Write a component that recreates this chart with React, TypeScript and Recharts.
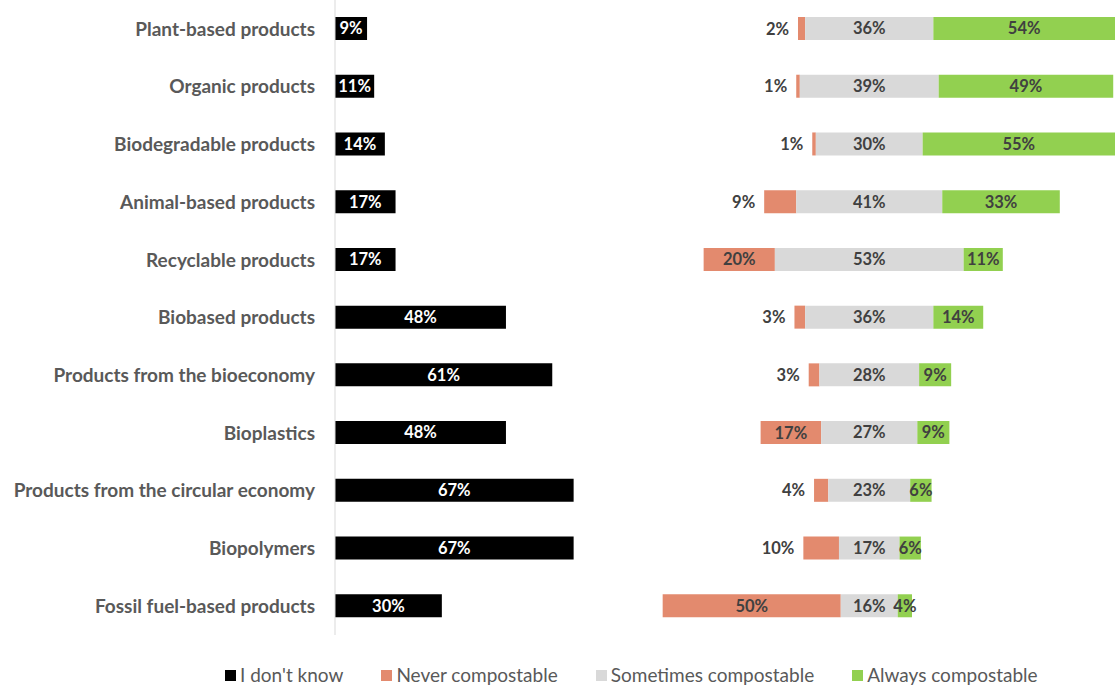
import React from "react";
import { BarChart, Bar, XAxis, YAxis, LabelList } from "recharts";

const categories = [
  "Plant-based products",
  "Organic products",
  "Biodegradable products",
  "Animal-based products",
  "Recyclable products",
  "Biobased products",
  "Products from the bioeconomy",
  "Bioplastics",
  "Products from the circular economy",
  "Biopolymers",
  "Fossil fuel-based products",
];
const dontKnow = [9, 11, 14, 17, 17, 48, 61, 48, 67, 67, 30];
const never = [2, 1, 1, 9, 20, 3, 3, 17, 4, 10, 50];
const sometimes = [36, 39, 30, 41, 53, 36, 28, 27, 23, 17, 16];
const always = [54, 49, 55, 33, 11, 14, 9, 9, 6, 6, 4];
const seriesNames = ["I don't know", "Never compostable", "Sometimes compostable", "Always compostable"];
const colors = ["#000000", "#E38A6E", "#D9D9D9", "#92D050"];

const CENTER = 150; // axis position of the middle of "Sometimes compostable"
const X_MAX = 219;

const data = categories.map((name, i) => ({
  name,
  dontKnow: dontKnow[i],
  spacer: CENTER - dontKnow[i] - never[i] - sometimes[i] / 2,
  never: never[i],
  sometimes: sometimes[i],
  always: always[i],
}));

const FONT = "Lato, 'Open Sans', sans-serif";
const pct = (v: any) => `${v}%`;

const NeverLabel = (props: any) => {
  const { x, y, width, height, value } = props;
  const inside = value >= 15;
  return (
    <text
      x={inside ? x + width / 2 : x - 9}
      y={y + height / 2}
      textAnchor={inside ? "middle" : "end"}
      dominantBaseline="central"
      fill="#404040"
      fontSize={16.5}
      fontWeight={700}
      fontFamily={FONT}
    >
      {value}%
    </text>
  );
};

const labelStyle = { fontSize: 16.5, fontWeight: 700, fontFamily: FONT };

export default function App() {
  return (
    <div style={{ position: "absolute", left: 0, top: 0, width: 1115, height: 688, background: "#fff" }}>
      <BarChart
        layout="vertical"
        width={1115}
        height={640}
        data={data}
        margin={{ top: 0, right: 0, bottom: 5, left: 0 }}
        barSize={23}
      >
        <XAxis type="number" hide domain={[0, X_MAX]} allowDataOverflow />
        <YAxis
          type="category"
          dataKey="name"
          width={335}
          interval={0}
          tickLine={false}
          tickSize={0}
          tickMargin={20}
          axisLine={{ stroke: "#D9D9D9" }}
          tick={{ fill: "#595959", fontSize: 19, fontWeight: 700, fontFamily: FONT }}
        />
        <Bar dataKey="dontKnow" stackId="a" fill={colors[0]} isAnimationActive={false}>
          <LabelList dataKey="dontKnow" position="center" formatter={pct} fill="#ffffff" style={labelStyle} />
        </Bar>
        <Bar dataKey="spacer" stackId="a" fill="transparent" isAnimationActive={false} />
        <Bar dataKey="never" stackId="a" fill={colors[1]} isAnimationActive={false}>
          <LabelList dataKey="never" content={NeverLabel} />
        </Bar>
        <Bar dataKey="sometimes" stackId="a" fill={colors[2]} isAnimationActive={false}>
          <LabelList dataKey="sometimes" position="center" formatter={pct} fill="#404040" style={labelStyle} />
        </Bar>
        <Bar dataKey="always" stackId="a" fill={colors[3]} isAnimationActive={false}>
          <LabelList dataKey="always" position="center" formatter={pct} fill="#404040" style={labelStyle} />
        </Bar>
      </BarChart>
      <div
        style={{
          position: "absolute",
          top: 664,
          left: 225,
          display: "flex",
          alignItems: "center",
          gap: 38,
          fontFamily: FONT,
          fontSize: 19,
          color: "#595959",
          lineHeight: "22px",
        }}
      >
        {seriesNames.map((n, i) => (
          <div key={n} style={{ display: "flex", alignItems: "center", gap: 4 }}>
            <span style={{ display: "inline-block", width: 11, height: 11, background: colors[i] }} />
            <span>{n}</span>
          </div>
        ))}
      </div>
    </div>
  );
}
